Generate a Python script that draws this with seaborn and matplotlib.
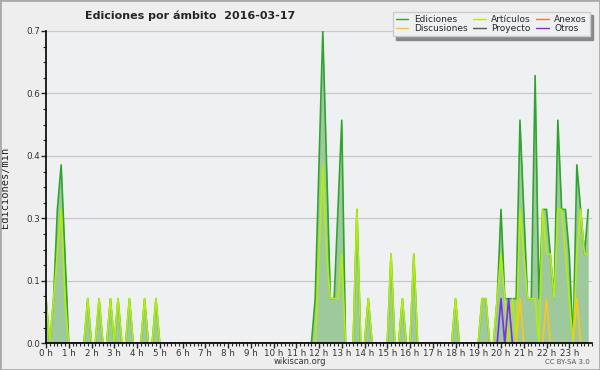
import numpy as np
import pandas as pd
import matplotlib
matplotlib.use("Agg")
import matplotlib.pyplot as plt
import seaborn as sns
from matplotlib.ticker import MultipleLocator
from matplotlib.patches import Rectangle
from matplotlib.lines import Line2D

# 144 intervalos de 10 minutos; solo se guardan los intervalos no nulos
n_bins = 144

ediciones_bins = [0, 2, 3, 4, 5, 11, 14, 17, 19, 22, 26, 29,
                  71, 72, 73, 74, 75, 76, 77, 78, 82, 85, 91, 94, 97,
                  108, 115, 116, 119, 120, 121, 122, 123, 124, 125, 126, 127,
                  128, 129, 130, 131, 132, 133, 134, 135, 136, 137, 138,
                  140, 141, 142, 143]
ediciones_vals = [0.1, 0.1, 0.3, 0.4, 0.2, 0.1, 0.1, 0.1, 0.1, 0.1, 0.1, 0.1,
                  0.1, 0.4, 0.7, 0.4, 0.1, 0.1, 0.3, 0.5, 0.3, 0.1, 0.2, 0.1, 0.2,
                  0.1, 0.1, 0.1, 0.1, 0.3, 0.1, 0.1, 0.1, 0.1, 0.5, 0.3, 0.1,
                  0.1, 0.6, 0.1, 0.3, 0.3, 0.2, 0.1, 0.5, 0.3, 0.3, 0.2,
                  0.4, 0.3, 0.2, 0.3]

articulos_bins = [0, 2, 3, 4, 5, 11, 14, 17, 19, 22, 26, 29,
                  72, 73, 74, 75, 76, 77, 78, 82, 85, 91, 94, 97,
                  108, 115, 116, 119, 120, 121, 123, 125, 126, 127, 128, 129,
                  131, 132, 133, 134, 135, 136, 137, 138, 140, 141, 142, 143]
articulos_vals = [0.1, 0.1, 0.2, 0.3, 0.1, 0.1, 0.1, 0.1, 0.1, 0.1, 0.1, 0.1,
                  0.2, 0.4, 0.2, 0.1, 0.1, 0.1, 0.2, 0.3, 0.1, 0.2, 0.1, 0.2,
                  0.1, 0.1, 0.1, 0.1, 0.2, 0.1, 0.1, 0.3, 0.2, 0.1, 0.1, 0.1,
                  0.3, 0.2, 0.2, 0.1, 0.3, 0.3, 0.2, 0.1, 0.2, 0.3, 0.2, 0.2]

discusiones_bins = [125, 132, 140]
discusiones_vals = [0.1, 0.1, 0.1]

otros_bins = [120, 122]
otros_vals = [0.1, 0.1]

anexos_bins = []
anexos_vals = []

proyecto_bins = []
proyecto_vals = []

hour_labels = ["0 h", "1 h", "2 h", "3 h", "4 h", "5 h", "6 h", "7 h", "8 h",
               "9 h", "10 h", "11 h", "12 h", "13 h", "14 h", "15 h", "16 h",
               "17 h", "18 h", "19 h", "20 h", "21 h", "22 h", "23 h"]
y_ticks = [0.0, 0.14, 0.28, 0.42, 0.56, 0.70]
y_labels = ["0.0", "0.1", "0.3", "0.4", "0.6", "0.7"]

colors = {
    "Ediciones": "#2fa52f",
    "Artículos": "#b4ec10",
    "Anexos": "#f07838",
    "Discusiones": "#f8c820",
    "Proyecto": "#555555",
    "Otros": "#7a2cf0",
}


def build(bins, vals):
    s = np.zeros(n_bins)
    s[bins] = vals
    return s


series = {
    "Ediciones": build(ediciones_bins, ediciones_vals),
    "Artículos": build(articulos_bins, articulos_vals),
    "Anexos": build(anexos_bins, anexos_vals),
    "Discusiones": build(discusiones_bins, discusiones_vals),
    "Proyecto": build(proyecto_bins, proyecto_vals),
    "Otros": build(otros_bins, otros_vals),
}
hours = np.arange(n_bins) / 6

sns.set_style("ticks", rc={"axes.facecolor": "#eff0f2",
                           "figure.facecolor": "#eeeeee"})
plt.rcParams["font.family"] = ["DejaVu Sans"]

fig = plt.figure(figsize=(6, 3.7), dpi=100)
ax = fig.add_axes([46 / 600, 1 - 343.3 / 370, 546 / 600, 312.3 / 370])

# area under total edits
ax.fill_between(hours, series["Ediciones"], color="#9dc99d", lw=0, zorder=1)

draw_order = ["Anexos", "Proyecto", "Ediciones", "Artículos", "Discusiones", "Otros"]
for i, name in enumerate(draw_order):
    df = pd.DataFrame({"hora": hours, "valor": series[name]})
    sns.lineplot(data=df, x="hora", y="valor", color=colors[name], lw=1.2,
                 ax=ax, zorder=2 + i, legend=False)

ax.set_xlim(0, 24)
ax.set_ylim(0, 0.7)
ax.set_xticks(range(24))
ax.set_xticklabels(hour_labels)
ax.xaxis.set_minor_locator(MultipleLocator(1 / 6))
ax.set_yticks(y_ticks)
ax.set_yticklabels(y_labels)
ax.yaxis.set_minor_locator(MultipleLocator(0.035))
ax.tick_params(which="major", length=3.5, width=1, labelsize=6.3,
               labelcolor="#333333", pad=0.5)
ax.tick_params(which="minor", length=2.5, width=0.8)
ax.yaxis.grid(True, color="#c8c8c8", lw=0.9)
ax.set_axisbelow(True)
for side in ["top", "right"]:
    ax.spines[side].set_visible(False)
for side in ["left", "bottom"]:
    ax.spines[side].set_linewidth(1.2)
    ax.spines[side].set_color("black")
    ax.spines[side].set_zorder(20)

ax.set_xlabel("")
ax.set_ylabel("Ediciones/min", family="DejaVu Sans Mono", fontsize=7.5)
ax.yaxis.set_label_coords(-0.066, 0.5)

legend_order = ["Ediciones", "Discusiones", "Artículos", "Proyecto", "Anexos", "Otros"]
handles = [Line2D([], [], color=colors[n], lw=1) for n in legend_order]
ax.legend(handles, legend_order, ncol=3, loc="upper right",
          bbox_to_anchor=(0.996, 1.062), fontsize=6.5, frameon=True,
          fancybox=False, edgecolor="#cccccc", framealpha=1,
          shadow={"ox": 2.5, "oy": -2.5, "color": "#888888", "alpha": 1.0},
          handlelength=1.4, handletextpad=0.6, columnspacing=0.6,
          labelspacing=0.05, borderpad=0.35, borderaxespad=0)

fig.text(85 / 600, 1 - 16 / 370, "Ediciones por ámbito  2016-03-17",
         fontsize=8, fontweight="bold", va="center")
fig.text(300 / 600, 1 - 362 / 370, "wikiscan.org", fontsize=6,
         ha="center", va="center", color="#333333")
fig.text(590 / 600, 1 - 362 / 370, "CC BY-SA 3.0", fontsize=5,
         ha="right", va="center", color="#555555")
fig.patches.append(Rectangle((0, 0), 1, 1, transform=fig.transFigure,
                             fill=False, edgecolor="#aaaaaa", lw=2))

fig.savefig("out.png", dpi=100)
